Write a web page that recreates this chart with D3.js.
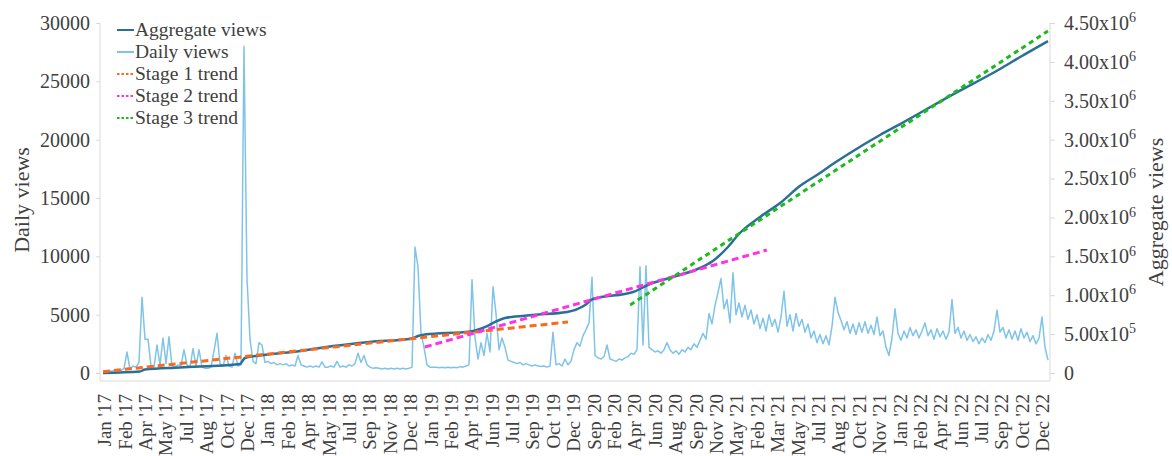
<!DOCTYPE html>
<html>
<head>
<meta charset="utf-8">
<script src="https://cdn.jsdelivr.net/npm/d3@7"></script>
<style>
  html, body { margin: 0; padding: 0; background: #fff; }
  svg { display: block; font-family: "Liberation Serif", "Times New Roman", serif; }
  svg text { font-family: "Liberation Serif", "Times New Roman", serif; }
</style>
</head>
<body>
<svg id="chart" width="1172" height="456"></svg>
<script>
// ---- Data ----
const tickLabels = ["Jan '17","Feb '17","Apr '17","May '17","Jul '17","Aug '17","Oct '17","Dec '17",
  "Jan '18","Feb '18","Apr '18","May '18","Jul '18","Sep '18","Nov '18","Dec '18",
  "Jan '19","Feb '19","Apr '19","Jun '19","Jul '19","Sep '19","Oct '19","Dec '19",
  "Sep '20","Feb '20","Apr '20","Jun '20","Aug '20","Sep '20","Nov '20","May '21",
  "Feb '21","Mar '21","May '21","Jul '21","Aug '21","Oct '21","Nov '21",
  "Jan '22","Feb '22","Apr '22","Jun '22","Jul '22","Sep '22","Oct '22","Dec '22"];

// daily views, one reading per week (day = index * 7)
const dailyViews = [
  100,150,200,150,250,300,200,400,
  1800,300,600,500,900,
  6500,2900,2900,600,
  500,2400,700,3000,800,3100,600,500,700,600,
  2000,700,500,2100,600,2000,500,400,400,500,
  1900,3400,800,600,1500,600,500,1700,600,700,
  28000,8100,2900,1000,800,2600,2400,900,1000,800,
  900,700,800,700,800,600,700,600,1500,700,
  600,500,600,500,600,500,950,500,500,600,
  500,1000,500,600,500,700,600,800,1700,900,
  1500,700,500,400,450,400,350,400,350,400,
  350,400,350,400,350,400,500,10800,9100,3400,
  2200,700,500,500,500,450,500,450,500,450,
  500,450,550,500,600,700,8000,3000,1200,2600,
  1500,3400,1800,7400,5100,2000,3000,2200,1100,1000,
  900,800,900,700,800,700,600,700,600,550,
  600,500,600,3500,700,800,600,1200,700,1000,
  2000,2600,2300,3200,3700,4300,8200,1500,1300,1200,
  1400,2400,1200,1100,1000,1200,1100,1300,1400,1700,
  1600,2000,9100,2400,9200,2200,2000,1800,1900,1700,
  2000,2600,2000,1700,1900,1600,2000,1800,2200,2000,
  2500,2200,2800,3400,2900,5100,4200,5800,6900,8100,
  5500,6300,4300,8600,5000,6000,4800,5800,4600,5400,
  4200,5000,3800,4700,3600,5000,4000,4600,3500,4800,
  7000,4000,5000,3600,5100,4000,4600,3500,4200,3000,
  3600,2600,3300,2500,3200,2400,4000,6500,5200,4500,
  3700,4400,3400,4200,3300,4300,3500,4400,3400,4100,
  3300,4800,3200,3600,2200,1500,3000,5500,3400,2800,
  3600,3000,3900,3200,3700,3000,3600,4300,3200,3700,
  2900,3800,3100,3600,2900,3500,6300,3400,3900,3000,
  3600,2800,3300,2700,3100,2500,3000,2600,3300,2800,
  3600,5400,3500,3900,3000,3700,2900,3600,2800,3800,
  3000,3500,2700,3200,2500,3000,4800,2200,1100
];

const aggregateDays = [0,86,98,180,320,331,366,460,537,623,721,735,751,856,891,915,938,1003,1083,1125,1143,
  1237,1276,1330,1393,1423,1456,1486,1533,1580,1626,1673,1696,1743,1813,1860,1976,2093,2140,2205];
const aggregateViews = [0,19000,45000,71000,116000,193000,225000,283000,347000,399000,444000,476000,495000,
  534000,591000,656000,707000,746000,784000,874000,951000,1041000,1144000,1234000,1350000,1440000,1607000,
  1800000,2006000,2186000,2404000,2571000,2661000,2829000,3060000,3201000,3561000,3909000,4063000,4268000];

const stage1Days = [0, 1085],   stage1Views = [17000, 656000];
const stage2Days = [751, 1549], stage2Views = [334000, 1581000];
const stage3Days = [1230, 2205], stage3Views = [874000, 4397000];

const leftTicks = [0,5000,10000,15000,20000,25000,30000];
const rightTicks = [0,5e5,1e6,1.5e6,2e6,2.5e6,3e6,3.5e6,4e6,4.5e6];

// ---- Layout ----
const svg = d3.select("#chart");
const textColor = "#404040", axisColor = "#d9d9d9";
const x = d3.scaleLinear().domain([0, (dailyViews.length - 1) * 7]).range([103, 1048]);
const yL = d3.scaleLinear().domain([0, 30000]).range([373, 23]);
const yR = d3.scaleLinear().domain([0, 4.5e6]).range([373, 23]);
const xCat = d3.scalePoint().domain(d3.range(tickLabels.length)).range([105, 1043]);

// left axis
const gL = svg.append("g").attr("transform", "translate(100,0)")
  .call(d3.axisLeft(yL).tickValues(leftTicks).tickSize(4).tickPadding(6).tickFormat(d3.format("d")))
  .attr("font-family", null).attr("font-size", null);
gL.select(".domain").remove();
gL.append("line").attr("x1",0).attr("x2",0).attr("y1",23).attr("y2",381).attr("stroke",axisColor);
gL.selectAll(".tick line").attr("stroke", axisColor);
gL.selectAll(".tick text").attr("fill", textColor).style("font-size","20px");

// right axis
const gR = svg.append("g").attr("transform", "translate(1050,0)")
  .call(d3.axisRight(yR).tickValues(rightTicks).tickSize(5).tickPadding(9).tickFormat(""))
  .attr("font-family", null).attr("font-size", null);
gR.select(".domain").remove();
gR.append("line").attr("x1",0).attr("x2",0).attr("y1",23).attr("y2",381).attr("stroke",axisColor);
gR.selectAll(".tick line").attr("stroke", axisColor);
gR.selectAll(".tick text").each(function(d) {
  const t = d3.select(this).attr("fill", textColor).style("font-size","20px");
  if (d === 0) { t.text("0"); return; }
  const e = Math.floor(Math.log10(d));
  const m = (d / Math.pow(10, e)).toFixed(2);
  t.text(null);
  t.append("tspan").text(m + "x10");
  t.append("tspan").attr("dy", "-0.55em").style("font-size","14px").text(e);
});

// bottom axis
const gB = svg.append("g").attr("transform", "translate(0,381)");
gB.append("line").attr("x1",100).attr("x2",1050).attr("y1",0).attr("y2",0).attr("stroke",axisColor);
gB.selectAll("text").data(d3.range(tickLabels.length)).join("text")
  .attr("transform", d => `translate(${xCat(d)},13) rotate(-90)`)
  .attr("text-anchor","end").attr("dy","0.33em")
  .attr("fill", textColor).style("font-size","19px")
  .text(d => tickLabels[d]);

// axis titles
svg.append("text").attr("transform","translate(21,200) rotate(-90)")
  .attr("text-anchor","middle").attr("dy","0.35em").attr("fill",textColor)
  .style("font-size","22px").text("Daily views");
svg.append("text").attr("transform","translate(1155,212) rotate(-90)")
  .attr("text-anchor","middle").attr("dy","0.35em").attr("fill",textColor)
  .style("font-size","22px").text("Aggregate views");

// daily line
svg.append("path").datum(dailyViews)
  .attr("fill","none").attr("stroke","#7fc4e8").attr("stroke-width",1.5).attr("stroke-linejoin","round")
  .attr("d", d3.line().x((d,i) => x(i*7)).y(d => yL(d)));

// aggregate line
svg.append("path").datum(aggregateDays.map((d,i) => [d, aggregateViews[i]]))
  .attr("fill","none").attr("stroke","#2a6f95").attr("stroke-width",2.5).attr("stroke-linejoin","round")
  .attr("d", d3.line().curve(d3.curveMonotoneX).x(d => x(d[0])).y(d => yR(d[1])));

// trend lines
const trends = [
  {days: stage1Days, views: stage1Views, color: "#fb6a1c", dash: "7,4"},
  {days: stage2Days, views: stage2Views, color: "#ff33e4", dash: "7,4"},
  {days: stage3Days, views: stage3Views, color: "#1db91d", dash: "5,4"}
];
trends.forEach(t => {
  svg.append("path").datum(t.days.map((d,i) => [d, t.views[i]]))
    .attr("fill","none").attr("stroke", t.color).attr("stroke-width",3).attr("stroke-dasharray", t.dash)
    .attr("d", d3.line().x(d => x(d[0])).y(d => yR(d[1])));
});

// legend
const legendItems = [
  {name: "Aggregate views", color: "#2a6f95", dash: null, w: 2},
  {name: "Daily views", color: "#7fc4e8", dash: null, w: 2},
  {name: "Stage 1 trend", color: "#fb6a1c", dash: "2.5,2", w: 2},
  {name: "Stage 2 trend", color: "#ff33e4", dash: "2.5,2", w: 2},
  {name: "Stage 3 trend", color: "#1db91d", dash: "2.5,2", w: 2}
];
const lg = svg.append("g");
legendItems.forEach((it, i) => {
  const cy = 30 + i * 22;
  lg.append("line").attr("x1",117).attr("x2",134).attr("y1",cy).attr("y2",cy)
    .attr("stroke", it.color).attr("stroke-width", it.w)
    .attr("stroke-dasharray", it.dash);
  lg.append("text").attr("x",135).attr("y",cy).attr("dy","0.33em")
    .attr("fill",textColor).style("font-size","19.5px").text(it.name);
});
</script>
</body>
</html>
